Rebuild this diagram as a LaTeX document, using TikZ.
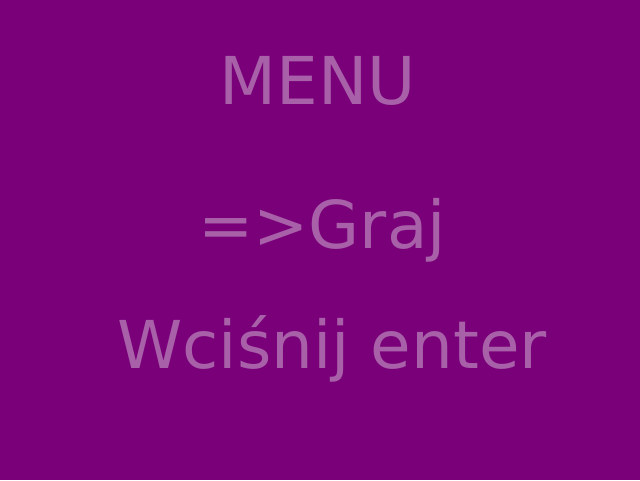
\documentclass[tikz,border=0pt]{standalone}
\usepackage{fontspec}
\setmainfont{DejaVu Sans}
\definecolor{bgpurple}{RGB}{122,0,122}
\definecolor{txtpurple}{RGB}{168,96,168}
\begin{document}
\begin{tikzpicture}[x=1pt,y=1pt,
  menutext/.style={inner sep=0pt,anchor=base,text=txtpurple,font=\fontsize{66}{70}\selectfont}]
\fill[bgpurple] (0,0) rectangle (640,480);
\useasboundingbox (0,0) rectangle (640,480);
\node[menutext] (title) at (318,375) {MENU};
\node[menutext] (play) at (322,231) {=>Graj};
\node[menutext] (hint) at (332,112) {Wciśnij enter};
\end{tikzpicture}
\end{document}
